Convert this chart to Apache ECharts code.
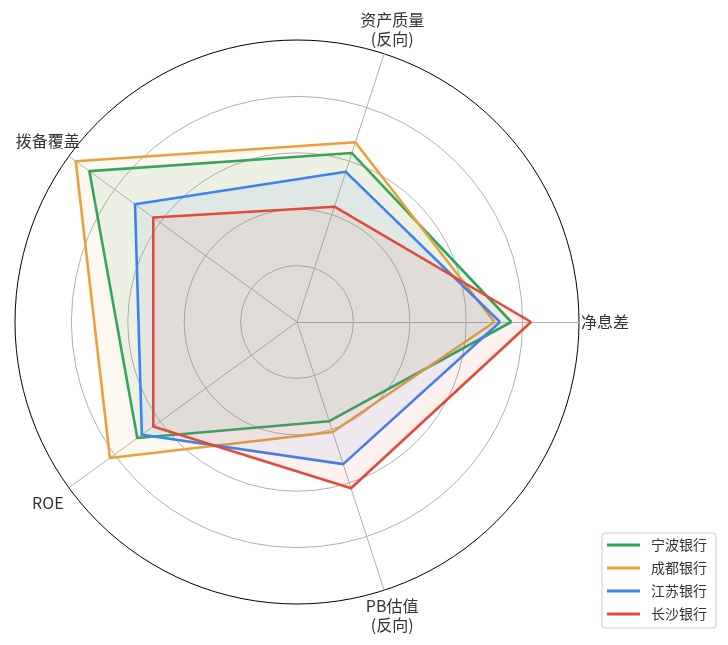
<!DOCTYPE html>
<html>
<head>
<meta charset="utf-8">
<style>
  html, body { margin: 0; padding: 0; background: #fff; }
  #chart { width: 728px; height: 645px; }
</style>
<script src="https://cdn.jsdelivr.net/npm/echarts@6/dist/echarts.min.js"></script>
</head>
<body>
<div id="chart"></div>
<script>
// 指标（逆时针，从右侧开始）
var indicators = ['净息差', '资产质量\n(反向)', '拨备覆盖', 'ROE', 'PB估值\n(反向)'];
var banks = ['宁波银行', '成都银行', '江苏银行', '长沙银行'];
// 各银行得分 (0-100)
var ningbo = [76, 63, 91, 70, 37];
var chengdu = [70, 67, 97, 82, 41];
var jiangsu = [72, 56, 71, 68, 53];
var changsha = [83, 43, 63, 63, 62];
var colors = ['#27a85f', '#e8a23c', '#3b84f0', '#e04b3b'];

var myChart = echarts.init(document.getElementById('chart'));

var values = [ningbo, chengdu, jiangsu, changsha];
var series = [{
    type: 'radar',
    symbol: 'none',
    data: values.map(function (v, i) {
        return {
            name: banks[i],
            value: v,
            lineStyle: { color: colors[i], width: 2.6 },
            areaStyle: { color: colors[i], opacity: 0.08 },
            itemStyle: { color: colors[i] }
        };
    })
}];

var option = {
    animation: false,
    color: colors,
    legend: {
        orient: 'vertical',
        left: 602,
        top: 533,
        data: banks,
        icon: 'rect',
        itemWidth: 33,
        itemHeight: 3,
        itemGap: 9,
        padding: [5, 9, 7, 5],
        borderColor: '#cccccc',
        borderWidth: 1,
        borderRadius: 3,
        textStyle: {
            fontFamily: 'Noto Sans CJK SC',
            fontSize: 14,
            color: '#333',
            padding: [0, 0, 0, 6]
        }
    },
    radar: {
        center: [297, 322],
        radius: 282,
        startAngle: 0,
        shape: 'circle',
        splitNumber: 5,
        indicator: indicators.map(function (n) {
            return { name: n, max: 100, min: 0 };
        }),
        axisName: {
            color: '#333',
            fontFamily: 'Noto Sans CJK SC',
            fontSize: 16,
            lineHeight: 19,
            align: 'center',
            verticalAlign: 'middle'
        },
        nameGap: 26,
        axisLine: { lineStyle: { color: '#b0b0b0', width: 1 } },
        splitLine: {
            lineStyle: {
                color: ['#b0b0b0', '#b0b0b0', '#b0b0b0', '#b0b0b0', '#b0b0b0', '#000000'],
                width: 1
            }
        },
        splitArea: { show: false }
    },
    series: series
};

myChart.setOption(option);
</script>
</body>
</html>
